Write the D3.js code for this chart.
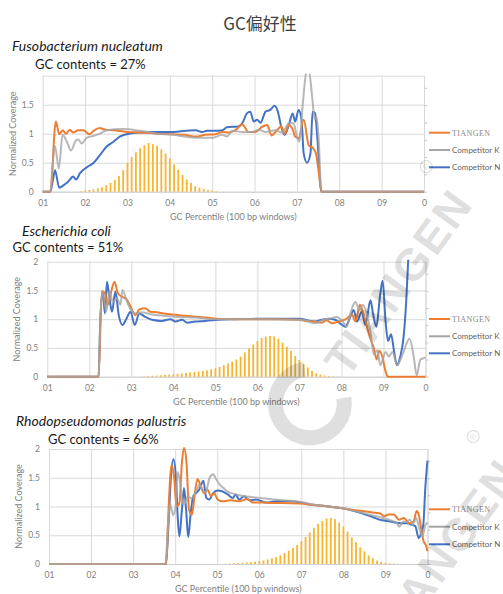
<!DOCTYPE html>
<html><head><meta charset="utf-8">
<script src="https://cdn.jsdelivr.net/npm/d3@7/dist/d3.min.js"></script>
<style>body{margin:0;background:#fff}svg{display:block}</style>
</head><body>
<svg id="chart" width="503" height="594"></svg>
<script>
// ---------- DATA ----------
const chartTitle = "GC偏好性";
const xTickValues = [10, 20, 30, 40, 50, 60, 70, 80, 90, 100];
const xTickLabels = ["01", "02", "03", "04", "05", "06", "07", "08", "09", "0"];
const yTickValues = [0, 0.5, 1, 1.5, 2];
const yTickLabels = ["0", "0.5", "1", "1.5", "2"];
const seriesNames = ["TIANGEN", "Competitor K", "Competitor N"];
const speciesNames = ["Fusobacterium nucleatum", "Escherichia coli", "Rhodopseudomonas palustris"];
const gcLabels = ["GC contents = 27%", "GC contents = 51%", "GC contents = 66%"];
const xAxisTitle = "GC Percentile (100 bp windows)";
const yAxisTitle = "Normalized Coverage";

// Panel 1: Fusobacterium nucleatum  ([GC percentile, normalized coverage])
const fusoTiangen = [[10,0],[11.8,0],[13.1,1.21],[13.9,0.99],[14.7,1.06],[15.5,1.0],[16.4,1.07],[17.2,1.02],[18.4,1.06],[19.6,1.06],[21,0.99],[22,1.05],[23.4,1.1],[24.7,1.07],[26.7,1.06],[29.8,1.03],[33,1.02],[36.9,1.0],[40.8,0.99],[43.5,0.98],[46.1,0.95],[48.4,0.98],[50.8,0.99],[52.4,1.03],[53.9,1.02],[55.5,1.06],[57.1,1.16],[58.6,1.03],[60.2,1.03],[61.8,1.12],[63,1.15],[64,0.97],[65.3,1.06],[66.3,1.13],[67.1,1.0],[68.1,1.15],[68.9,1.09],[69.6,0.95],[70.4,0.92],[71.6,1.24],[72.8,0.8],[73.7,0.76],[74.5,0.66],[75.1,0.37],[75.8,0],[100,0]];
const fusoK = [[10,0],[11.8,0],[12.4,0.5],[12.9,0.79],[13.8,0.4],[14.7,0.98],[15.7,0.86],[16.7,0.71],[17.8,0.88],[18.4,0.9],[19.2,0.83],[20.4,0.93],[21.9,0.96],[23.5,1.0],[25.1,1.06],[29,1.08],[33,1.05],[37,1.0],[40.8,0.98],[43.5,0.95],[46.7,0.93],[50,0.93],[52.4,0.98],[53.5,0.95],[54.7,1.05],[57.1,1.03],[59.4,1.03],[61,1.07],[62.6,1.03],[64.9,1.06],[66.5,1.02],[68.1,1.18],[69.2,1.18],[70,0.95],[70.6,0.86],[71.4,1.52],[72.2,2.05],[72.8,2.1],[73.6,1.64],[74.2,1.24],[74.6,1.3],[75.1,0.95],[75.8,0],[100,0]];
const fusoN = [[10,0],[11.8,0],[12.4,0.2],[12.9,0.37],[13.9,0.07],[14.9,0.11],[16,0.17],[17.2,0.26],[17.9,0.21],[18.8,0.32],[20.4,0.42],[21.9,0.49],[23.5,0.63],[25.1,0.78],[26.7,0.86],[28.2,0.95],[29.8,0.99],[33,1.02],[36.9,1.03],[40.8,1.03],[43.9,1.05],[46.1,1.06],[47.6,1.03],[48.8,1.05],[50.4,1.05],[52.4,1.06],[53.5,1.11],[54.7,1.12],[55.9,1.12],[57.1,1.18],[58.2,1.35],[59,1.38],[59.8,1.21],[60.6,1.24],[61.4,1.19],[62.6,1.38],[63.7,1.41],[64.7,1.48],[65.5,1.38],[66.3,1.12],[67.1,0.98],[68.1,1.15],[69,1.35],[69.6,1.21],[70.4,1.41],[71.1,1.24],[71.6,0.66],[72.4,0.5],[73.2,0.66],[73.7,1.38],[74.3,1.35],[74.8,0.95],[75.8,0],[100,0]];
const fusoBarStart = 19;
const fusoBars = [0.01,0.02,0.03,0.04,0.06,0.08,0.11,0.15,0.2,0.27,0.37,0.5,0.6,0.68,0.75,0.8,0.84,0.82,0.79,0.73,0.66,0.57,0.47,0.38,0.29,0.21,0.15,0.1,0.07,0.05,0.03,0.02,0.01];

// Panel 2: Escherichia coli
const ecoliTiangen = [[10,0],[22.2,0],[23,1.49],[23.7,1.45],[24.4,1.25],[25.2,1.48],[26,1.65],[26.8,1.45],[27.8,1.39],[28.7,1.36],[29.8,1.22],[31,1.07],[31.9,1.17],[33.3,1.19],[34.5,1.13],[36.1,1.12],[37.7,1.1],[39.7,1.08],[42.9,1.06],[46,1.04],[50.2,1.01],[54.8,1.0],[60.3,1.0],[65,1.0],[70,0.99],[71.3,0.97],[73.3,0.96],[75.3,0.94],[76.5,0.98],[77.7,0.93],[79.3,0.96],[81.3,1.01],[82.5,1.08],[83.3,0.96],[84.4,1.25],[85.2,1.1],[85.9,0.93],[86.6,0.72],[87.7,0.5],[88.4,0.3],[89,0.45],[89.7,0.35],[90.4,0.12],[91,0],[100,0]];
const ecoliK = [[10,0],[22.2,0],[22.6,0.96],[23.2,1.48],[24,1.13],[24.8,1.48],[25.6,1.3],[26.6,1.36],[27.4,1.25],[27.9,1.51],[29,1.3],[30.2,1.13],[31.3,1.1],[32.5,1.12],[34.9,1.08],[38.1,1.06],[41.3,1.04],[45.2,1.03],[50,1.0],[60.3,1.0],[70,0.99],[71.3,0.98],[73.7,0.93],[75.7,0.99],[77.3,1.01],[78.9,1.04],[80.3,0.96],[81.3,0.87],[82.1,1.1],[83.3,1.3],[84.3,1.16],[85.1,1.25],[86.1,1.07],[86.9,0.78],[87.7,0.38],[88.5,0.46],[89.3,0.2],[90.5,0.43],[91.3,0.35],[92.1,0.43],[93.3,0.2],[94.5,0.38],[96.2,0.66],[97.2,0.35],[97.9,0.02],[98.8,0.3],[100,0.33]];
const ecoliN = [[10,0],[22.2,0],[22.6,0.96],[23.2,1.48],[23.7,1.1],[24.2,1.65],[24.8,1.36],[25.4,1.13],[26.2,1.48],[27,1.07],[27.9,0.9],[28.7,0.99],[29.8,1.13],[30.8,0.9],[31.9,1.1],[33.3,1.04],[34.9,0.99],[37.3,0.97],[39.3,1.0],[40.5,0.96],[42.1,0.99],[43.3,0.94],[45.2,0.96],[47.6,0.97],[50.8,0.99],[54.8,1.0],[60.3,1.01],[70,1.01],[71.3,0.99],[73.7,0.96],[75.3,0.99],[76.9,1.01],[78.5,0.99],[80,0.91],[80.9,0.87],[82.1,1.04],[82.9,1.16],[83.7,0.96],[84.8,1.13],[85.7,0.9],[86.9,1.33],[87.5,1.1],[88.3,0.87],[89.2,1.42],[89.8,1.67],[90.5,0.96],[91.1,0.62],[91.8,0.74],[92.5,0.45],[93.2,0.2],[94,0.35],[94.8,0.7],[95.4,1.3],[96,2.2],[96.6,3]];
const ecoliBarStart = 33;
const ecoliBars = [0.005,0.01,0.015,0.02,0.025,0.03,0.035,0.04,0.05,0.055,0.065,0.075,0.085,0.09,0.1,0.11,0.13,0.145,0.17,0.2,0.23,0.26,0.3,0.35,0.42,0.49,0.56,0.62,0.67,0.7,0.71,0.7,0.66,0.59,0.52,0.45,0.36,0.29,0.22,0.16,0.1,0.06,0.035,0.02,0.012,0.008,0.005];

// Panel 3: Rhodopseudomonas palustris
const rhodoTiangen = [[10,0],[37.8,0],[38.6,1.23],[39.1,1.72],[39.8,1.47],[40.3,1.0],[41,1.06],[41.6,1.76],[42.1,2.02],[42.7,1.76],[43.3,0.94],[44,0.86],[44.5,1.12],[45.3,1.48],[46.1,1.35],[46.9,1.23],[47.7,1.29],[48.5,1.18],[49.3,1.23],[50.1,1.12],[51.3,1.09],[53.3,1.11],[55.2,1.09],[57.2,1.13],[58.4,1.07],[60.8,1.07],[63.2,1.06],[65.6,1.06],[69.5,1.05],[72.5,1.03],[76.5,1.0],[80.5,0.96],[84.4,0.92],[87.6,0.89],[88.8,0.88],[89.6,0.83],[90.8,0.86],[92,0.86],[93.2,0.77],[94.4,0.8],[95.6,0.71],[96.7,0.74],[97.4,0.92],[97.9,0.86],[98.6,0.57],[99.1,0.39],[99.6,0.33],[100,0.22]];
const rhodoK = [[10,0],[37.7,0],[38.3,0.7],[38.8,1.05],[39.5,0.85],[40.1,1.0],[40.6,1.6],[41.2,1.4],[41.8,1.05],[42.3,1.05],[43,1.18],[43.8,1.14],[45,1.27],[45.8,1.38],[46.6,1.28],[47.2,1.24],[48.2,1.5],[49,1.56],[49.8,1.47],[50.6,1.38],[51.5,1.32],[52.5,1.26],[54,1.22],[55.6,1.19],[57.6,1.17],[60,1.15],[63.2,1.12],[67,1.1],[70,1.08],[72.5,1.04],[76.5,1.0],[80.5,0.96],[84.4,0.89],[88.4,0.82],[91.6,0.75],[92.6,0.72],[93.3,0.65],[94.2,0.74],[95,0.73],[95.8,0.77],[96.5,0.68],[97.3,0.8],[98,0.63],[98.8,0.48],[99.5,0.68],[100,0.72]];
const rhodoN = [[10,0],[37.8,0],[38.4,0.66],[39,1.52],[39.6,1.82],[40.2,1.47],[40.6,0.83],[41,0.48],[41.6,0.94],[42.1,1.32],[42.6,0.94],[43.1,0.47],[43.7,0.89],[44.3,1.18],[44.9,1.23],[45.7,1.29],[46.7,1.45],[47.4,1.15],[48.1,1.12],[49,1.23],[50.1,1.28],[51.3,1.26],[52.5,1.21],[53.7,1.15],[54.4,1.21],[55.2,1.12],[56.4,1.18],[57.6,1.11],[59.2,1.12],[61.6,1.07],[64,1.09],[67.1,1.09],[69.9,1.07],[72.5,1.03],[76.5,1.0],[80.5,0.96],[84.4,0.88],[86.8,0.82],[89.2,0.76],[91.2,0.74],[92.4,0.72],[93.6,0.71],[95.2,0.71],[96.3,0.68],[97.1,0.66],[97.9,0.45],[98.5,0.54],[99,0.68],[99.5,1.35],[100,1.8]];
const rhodoBarStart = 52;
const rhodoBars = [0.005,0.008,0.01,0.015,0.02,0.025,0.03,0.04,0.05,0.06,0.08,0.1,0.12,0.15,0.19,0.23,0.28,0.33,0.4,0.47,0.55,0.63,0.7,0.75,0.79,0.8,0.78,0.72,0.65,0.56,0.46,0.38,0.29,0.22,0.15,0.1,0.06,0.035,0.02,0.012,0.006,0.003];

const watermarkText = "TIANGEN";

// ---------- LAYOUT / STYLE ----------
const colors = ["#ED7D31", "#A5A5A5", "#4472C4"];
const barColor = "#F7B530";
const gridColor = "#d9d9d9";
const sans = "Lato, 'Noto Sans', 'Liberation Sans', sans-serif";
const legendLineX = [429, 450], legendTextX = 452;

const panels = [
  { species: speciesNames[0], gc: gcLabels[0], lines: [fusoTiangen, fusoK, fusoN], barStart: fusoBarStart, bars: fusoBars,
    x0: 42.7, x1: 424, yb: 191.7, yt: 75.7, hideTop: true, spX: 12, spY: 51, gcX: 35, gcY: 69, legY: [132.7, 150, 167.3] },
  { species: speciesNames[1], gc: gcLabels[1], lines: [ecoliTiangen, ecoliK, ecoliN], barStart: ecoliBarStart, bars: ecoliBars,
    x0: 47.3, x1: 425.5, yb: 376.7, yt: 261.7, hideTop: false, spX: 22, spY: 236, gcX: 12.5, gcY: 252, legY: [319, 336.3, 353.3] },
  { species: speciesNames[2], gc: gcLabels[2], lines: [rhodoTiangen, rhodoK, rhodoN], barStart: rhodoBarStart, bars: rhodoBars,
    x0: 49, x1: 427.5, yb: 564, yt: 449, hideTop: false, spX: 16, spY: 425.5, gcX: 48, gcY: 443.5, legY: [509.3, 526.7, 544.3] }
];

const svg = d3.select("#chart");
const defs = svg.append("defs");

svg.append("text").attr("x", 260).attr("y", 30).attr("text-anchor", "middle")
  .attr("font-family", "'Noto Sans CJK SC', sans-serif").attr("font-size", 17).attr("fill", "#404040")
  .text(chartTitle);

panels.forEach((p, pi) => {
  const g = svg.append("g");
  const x = d3.scaleLinear().domain([10, 100]).range([p.x0, p.x1]);
  const y = d3.scaleLinear().domain([0, 2]).range([p.yb, p.yt]);
  const y2 = d3.scaleLinear().domain([0, 6.7]).range([p.yb, p.yt]);
  const w = p.x1 - p.x0, h = p.yb - p.yt;

  // headers
  g.append("text").attr("x", p.spX).attr("y", p.spY).attr("font-family", sans).attr("font-style", "italic")
    .attr("font-size", 14).attr("fill", "#1a1a1a").text(p.species);
  g.append("text").attr("x", p.gcX).attr("y", p.gcY).attr("font-family", sans)
    .attr("font-size", 13).attr("fill", "#1a1a1a").text(p.gc);

  // gridlines
  const gx = g.append("g").attr("transform", `translate(0,${p.yb})`)
    .call(d3.axisBottom(x).tickValues(xTickValues).tickSize(-h).tickFormat(""));
  gx.select(".domain").remove();
  gx.selectAll("line").attr("stroke", gridColor);
  const gy = g.append("g").attr("transform", `translate(${p.x0},0)`)
    .call(d3.axisLeft(y).tickValues(yTickValues).tickSize(-w).tickFormat(""));
  gy.select(".domain").remove();
  gy.selectAll("line").attr("stroke", gridColor);

  // secondary axis (right)
  const ry = g.append("g").attr("transform", `translate(${p.x1},0)`)
    .call(d3.axisRight(y2).tickValues([0,1,2,3,4,5,6]).tickSize(3).tickSizeOuter(0).tickFormat(""));
  ry.select(".domain").attr("stroke", gridColor);
  ry.selectAll("line").attr("stroke", "#c8c8c8");

  // x tick labels
  const ax = g.append("g").attr("transform", `translate(0,${p.yb})`)
    .call(d3.axisBottom(x).tickValues(xTickValues).tickSize(0).tickPadding(8)
      .tickFormat((d, i) => xTickLabels[i]));
  ax.select(".domain").attr("stroke", "#cfcfcf");
  ax.selectAll("text").attr("font-family", sans).attr("font-size", 8.5).attr("fill", "#808080");

  // y tick labels
  const ay = g.append("g").attr("transform", `translate(${p.x0},0)`)
    .call(d3.axisLeft(y).tickValues(p.hideTop ? yTickValues.slice(0, 4) : yTickValues).tickSize(0).tickPadding(9)
      .tickFormat(d => yTickLabels[yTickValues.indexOf(d)]));
  ay.select(".domain").remove();
  ay.selectAll("text").attr("font-family", sans).attr("font-size", 8.5).attr("fill", "#808080");

  // axis titles
  g.append("text").attr("x", (p.x0 + p.x1) / 2).attr("y", p.yb + 28).attr("text-anchor", "middle")
    .attr("font-family", sans).attr("font-size", 9).attr("fill", "#808080").text(xAxisTitle);
  g.append("text").attr("transform", `translate(${p.x0 - 27},${(p.yb + p.yt) / 2}) rotate(-90)`)
    .attr("text-anchor", "middle").attr("font-family", sans).attr("font-size", 9).attr("fill", "#808080").text(yAxisTitle);

  // bars
  g.append("g").selectAll("rect").data(p.bars).join("rect")
    .attr("x", (d, i) => x(p.barStart + i) - 0.9).attr("width", 1.8)
    .attr("y", d => y(d)).attr("height", d => p.yb - y(d)).attr("fill", barColor);

  // lines
  const clipId = "clip" + pi;
  defs.append("clipPath").attr("id", clipId).append("rect")
    .attr("x", p.x0 - 2).attr("y", p.yt - 2).attr("width", w + 4).attr("height", h + 6);
  const line = d3.line().x(d => x(d[0])).y(d => y(d[1])).curve(d3.curveMonotoneX);
  const lg = g.append("g").attr("clip-path", `url(#${clipId})`);
  [2, 0, 1].forEach(si => {
    lg.append("path").datum(p.lines[si]).attr("d", line).attr("fill", "none")
      .attr("stroke", colors[si]).attr("stroke-width", 2).attr("stroke-linejoin", "round")
      .attr("stroke-opacity", si === 1 ? 0.8 : 1);
  });

  // legend
  seriesNames.forEach((name, si) => {
    const ly = p.legY[si];
    g.append("line").attr("x1", legendLineX[0]).attr("x2", legendLineX[1]).attr("y1", ly).attr("y2", ly)
      .attr("stroke", colors[si]).attr("stroke-width", 2);
    const t = g.append("text").attr("x", legendTextX).attr("y", ly).attr("dy", "0.35em").text(name);
    if (si === 0) t.attr("font-family", "'Liberation Serif', 'DejaVu Serif', serif").attr("font-size", 8).attr("fill", "#8a8a8a").attr("letter-spacing", 0.4);
    else t.attr("font-family", sans).attr("font-size", 8).attr("fill", "#5f5f5f");
  });
});

// watermark
function watermark(cx, cy) {
  const wm = svg.append("g").attr("transform", `translate(${cx},${cy}) rotate(-54)`)
    .attr("opacity", 0.12).attr("pointer-events", "none");
  wm.append("text").attr("x", 0).attr("y", 0).attr("dy", "0.36em").attr("text-anchor", "middle")
    .attr("font-family", "'Liberation Sans', Arial, sans-serif").attr("font-weight", "bold")
    .attr("font-size", 45).attr("letter-spacing", 2).attr("fill", "#000").text(watermarkText);
  const arc = d3.arc().innerRadius(27).outerRadius(42).startAngle(Math.PI * 0.75).endAngle(Math.PI * 2.25);
  wm.append("path").attr("transform", "translate(-150,0)").attr("d", arc()).attr("fill", "#000");
  wm.append("circle").attr("cx", 110).attr("cy", -45).attr("r", 6).attr("fill", "none").attr("stroke", "#000").attr("stroke-width", 1.2);
  wm.append("text").attr("x", 110).attr("y", -45).attr("dy", "0.35em").attr("text-anchor", "middle")
    .attr("font-family", "'Liberation Sans', sans-serif").attr("font-size", 8).attr("fill", "#000").text("R");
}
watermark(398, 282);
watermark(445, 552);
</script>
</body></html>
